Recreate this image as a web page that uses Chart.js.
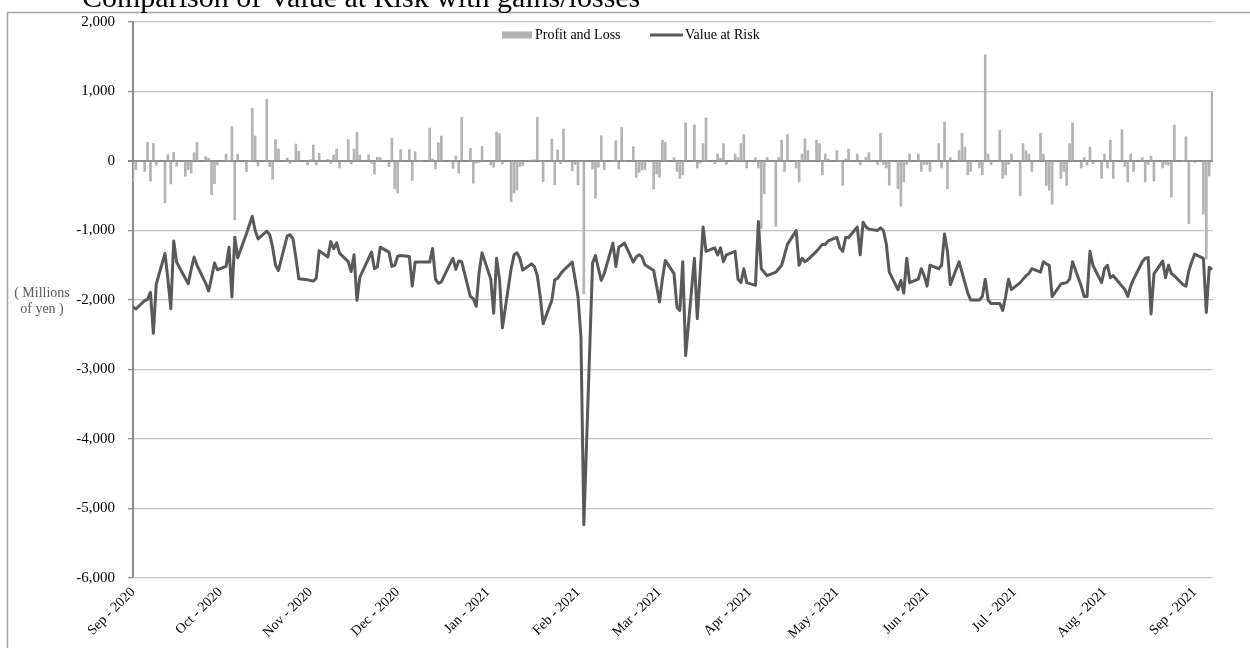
<!DOCTYPE html>
<html>
<head>
<meta charset="utf-8">
<script src="https://cdn.jsdelivr.net/npm/chart.js@4.4.1/dist/chart.umd.min.js"></script>
<style>
  html, body { margin: 0; padding: 0; background: #fff; }
  #wrap { position: relative; width: 1250px; height: 648px; overflow: hidden; }
</style>
</head>
<body>
<div id="wrap"><canvas id="varChart" width="1250" height="648"></canvas></div>
<script>
// first trading day; one value per weekday from here on
const startDate = '2020-09-03';

// month ticks (Excel date axis, major unit = 1 month from the first date)
const monthTickDates = ['2020-09-03', '2020-10-03', '2020-11-03', '2020-12-03', '2021-01-03', '2021-02-03',
    '2021-03-03', '2021-04-03', '2021-05-03', '2021-06-03', '2021-07-03', '2021-08-03', '2021-09-03'];
const monthLabels = ['Sep - 2020', 'Oct - 2020', 'Nov - 2020', 'Dec - 2020', 'Jan - 2021', 'Feb - 2021',
    'Mar - 2021', 'Apr - 2021', 'May - 2021', 'Jun - 2021', 'Jul - 2021', 'Aug - 2021', 'Sep - 2021'];

const yTicks = [2000, 1000, 0, -1000, -2000, -3000, -4000, -5000, -6000];

// daily profit and loss (millions of yen), one row per week
const pnl = [
    -297, -125,
    -150, 268, -290, 254, -60,
    -600, 90, -330, 125, -75,
    -220, -125, -175, 120, 268,
    62, 38, -483, -325, -55,
    100, 0, 493, -847, 96,
    -153, 0, 760, 359, -72,
    890, -80, -263, 306, 172,
    43, -33, 0, 244, 143,
    -57, 20, 230, -57, 110,
    24, -33, 86, 172, -100,
    306, -43, 172, 411, 86,
    90, -33, -187, 53, 48,
    -80, 325, -402, -460, 163,
    163, -282, 134, 0, 0,
    474, 29, -115, 263, 359,
    0, -105, 72, -177, 627,
    182, -320, -33, -20, 210,
    -57, -90, 416, 392, -43,
    -584, -460, -416, -80, -67,
    14, 19, 627, 0, -297,
    316, -344, 158, -43, 459,
    -140, -53, -344, 0, -1910,
    -115, -536, -91, 364, -124,
    0, 292, -115, 483, 0,
    206, -234, -163, -129, -120,
    -402, -187, -234, 301, 268,
    50, -150, -250, -200, 550,
    520, -100, -30, 250, 620,
    -40, 100, 40, 250, -50,
    100, 50, 250, 380, -100,
    50, -100, -970, -470, 50,
    -940, 50, 300, -150, 380,
    -100, -300, 100, 320, 150,
    300, 250, -200, 100, 30,
    150, 0, -350, 30, 170,
    100, -50, 0, 50, 120,
    -50, 400, -50, -100, -350,
    -400, -650, -300, -50, 100,
    100, -150, -50, -50, -150,
    250, -100, 560, -400, 50,
    150, 400, 200, -200, -150,
    -100, -200, 1530, 100, -50,
    440, -250, -200, -50, 100,
    -500, 250, 150, 100, -150,
    400, 100, -350, -420, -620,
    -250, -150, -350, 250, 550,
    -100, 50, -60, 200, -40,
    -250, 100, -100, 300, -250,
    450, -80, -300, 100, -150,
    50, -300, -50, 70, -290,
    -100, -50, -60, -520, 517,
    0, 349, -900, 0, -20,
    -765, -1410, -215, 1000
];

// daily value at risk (millions of yen)
const valueAtRisk = [
    -2100, -2130,
    -2010, -1990, -1890, -2480, -1770,
    -1330, -1700, -2125, -1150, -1455,
    -1690, -1765, -1560, -1383, -1500,
    -1760, -1870, -1680, -1469, -1565,
    -1517, -1240, -1957, -1096, -1392,
    -1048, -920, -794, -1000, -1120,
    -1010, -1060, -1240, -1500, -1574,
    -1080, -1060, -1120, -1390, -1694,
    -1710, -1720, -1727, -1690, -1290,
    -1380, -1160, -1263, -1177, -1325,
    -1450, -1590, -1350, -2005, -1670,
    -1400, -1311, -1550, -1526, -1240,
    -1311, -1517, -1500, -1370, -1359,
    -1373, -1800, -1455, -1455, -1455,
    -1455, -1260, -1700, -1760, -1740,
    -1480, -1400, -1560, -1440, -1450,
    -1950, -1980, -2090, -1600, -1320,
    -1700, -2190, -1400, -1700, -2400,
    -1550, -1350, -1320, -1400, -1570,
    -1480, -1520, -1650, -1950, -2340,
    -2005, -1708, -1690, -1622, -1574,
    -1455, -1700, -1957, -2531, -5234,
    -1469, -1359, -1550, -1718, -1622,
    -1182, -1517, -1240, -1210, -1182,
    -1455, -1380, -1349, -1380, -1493,
    -1574, -1800, -2029, -1700, -1431,
    -1620, -2100, -2150, -1450, -2800,
    -1400, -2270, -1600, -950, -1300,
    -1250, -1350, -1250, -1450, -1350,
    -1300, -1700, -1750, -1550, -1750,
    -1790, -870, -1550, -1600, -1650,
    -1600, -1550, -1500, -1350, -1200,
    -1000, -1500, -1400, -1450, -1420,
    -1300, -1250, -1200, -1200, -1150,
    -1100, -1250, -1300, -1100, -1100,
    -950, -1350, -880, -950, -980,
    -1000, -960, -1000, -1200, -1600,
    -1850, -1720, -1900, -1400, -1750,
    -1700, -1550, -1650, -1800, -1500,
    -1550, -1500, -1050, -1300, -1780,
    -1450, -1600, -1750, -1900, -2000,
    -2000, -1950, -1700, -2000, -2050,
    -2050, -2150, -1950, -1700, -1850,
    -1750, -1700, -1650, -1620, -1550,
    -1600, -1450, -1480, -1500, -1950,
    -1770, -1760, -1750, -1700, -1450,
    -1800, -1950, -1950, -1300, -1500,
    -1750, -1550, -1500, -1680, -1650,
    -1800, -1850, -1950, -1800, -1700,
    -1450, -1400, -1390, -2200, -1625,
    -1440, -1680, -1500, -1620, -1650,
    -1780, -1800, -1580, -1450, -1340,
    -1400, -2180, -1530, -1560
];

const DAY = 86400000;
const t0 = Date.parse(startDate + 'T00:00:00Z');
const dayOf = s => (Date.parse(s + 'T00:00:00Z') - t0) / DAY;

// x position of each value = calendar day offset of the i-th weekday
const dayIdx = [];
for (let t = t0; dayIdx.length < pnl.length; t += DAY) {
    const wd = new Date(t).getUTCDay();
    if (wd !== 0 && wd !== 6) dayIdx.push((t - t0) / DAY);
}
const monthTicks = monthTickDates.map(dayOf);
const lastDay = dayIdx[dayIdx.length - 1];

const pnlPts = pnl.map((v, i) => ({ x: dayIdx[i], y: v }));
const varPts = valueAtRisk.map((v, i) => ({ x: dayIdx[i], y: v }));

const SERIF = '"Liberation Serif", "Times New Roman", serif';

const decorPlugin = {
    id: 'decor',
    beforeDraw(chart) {
        const c = chart.ctx;
        c.save();
        c.fillStyle = '#fff';
        c.fillRect(0, 0, chart.width, chart.height);
        c.strokeStyle = '#a6a6a6';
        c.lineWidth = 1.5;
        c.strokeRect(7.5, 12.5, 1260, 700);
        c.restore();
    },
    afterDraw(chart) {
        const c = chart.ctx;
        c.save();
        // title, clipped at the top edge like the source image
        c.fillStyle = '#000';
        c.font = '30px ' + SERIF;
        c.textBaseline = 'alphabetic';
        c.textAlign = 'left';
        c.fillText('\u30FBComparison of Value at Risk with gains/losses', 52, 7);

        // unit label
        c.fillStyle = '#595959';
        c.font = '14px ' + SERIF;
        c.textAlign = 'center';
        c.fillText('( Millions', 42, 297);
        c.fillText('of yen )', 42, 313);

        // legend
        const sets = chart.data.datasets;
        const bar = sets.find(s => s.type === 'bar');
        const line = sets.find(s => s.type === 'line');
        c.font = '14px ' + SERIF;
        c.textAlign = 'left';
        c.textBaseline = 'middle';
        const ly = 35;
        c.fillStyle = bar.backgroundColor;
        c.fillRect(502, ly - 3.5, 30, 7);
        c.fillStyle = '#000';
        c.fillText(bar.label, 535, ly);
        c.strokeStyle = line.borderColor;
        c.lineWidth = 3;
        c.beginPath();
        c.moveTo(650, ly);
        c.lineTo(683, ly);
        c.stroke();
        c.fillText(line.label, 685, ly);
        c.restore();
    }
};

new Chart(document.getElementById('varChart'), {
    type: 'bar',
    data: {
        datasets: [
            {
                type: 'line',
                label: 'Value at Risk',
                data: varPts,
                borderColor: '#595959',
                backgroundColor: '#595959',
                borderWidth: 3,
                pointRadius: 0,
                tension: 0,
                borderJoinStyle: 'round'
            },
            {
                type: 'bar',
                label: 'Profit and Loss',
                data: pnlPts,
                backgroundColor: '#b3b3b3',
                barThickness: 2
            }
        ]
    },
    options: {
        responsive: false,
        animation: false,
        layout: { padding: { top: 21, right: 37, bottom: 0, left: 0 } },
        plugins: {
            legend: { display: false },
            tooltip: { enabled: false }
        },
        scales: {
            x: {
                type: 'linear',
                min: 0,
                max: lastDay + 0.3,
                offset: false,
                grid: { display: false, drawTicks: false },
                border: { display: false },
                afterBuildTicks: scale => { scale.ticks = monthTicks.map(v => ({ value: v })); },
                afterFit: scale => { scale.height = 70; },
                ticks: {
                    autoSkip: false,
                    minRotation: 45,
                    maxRotation: 45,
                    padding: 6,
                    color: '#000',
                    font: { family: SERIF, size: 14 },
                    callback: (v, i) => monthLabels[i]
                }
            },
            y: {
                min: -6000,
                max: 2000,
                afterBuildTicks: scale => { scale.ticks = yTicks.map(v => ({ value: v })); },
                afterFit: scale => { scale.width = 133; },
                grid: {
                    color: c => c.tick && c.tick.value === 0 ? '#8c8c8c' : '#c4c4c4',
                    lineWidth: c => c.tick && c.tick.value === 0 ? 2 : 1.3,
                    tickLength: 5,
                    tickColor: '#8c8c8c'
                },
                border: { color: '#8c8c8c', width: 2 },
                ticks: {
                    padding: 13,
                    color: '#000',
                    font: { family: SERIF, size: 15 },
                    callback: v => v.toLocaleString('en-US')
                }
            }
        }
    },
    plugins: [decorPlugin]
});
</script>
</body>
</html>
